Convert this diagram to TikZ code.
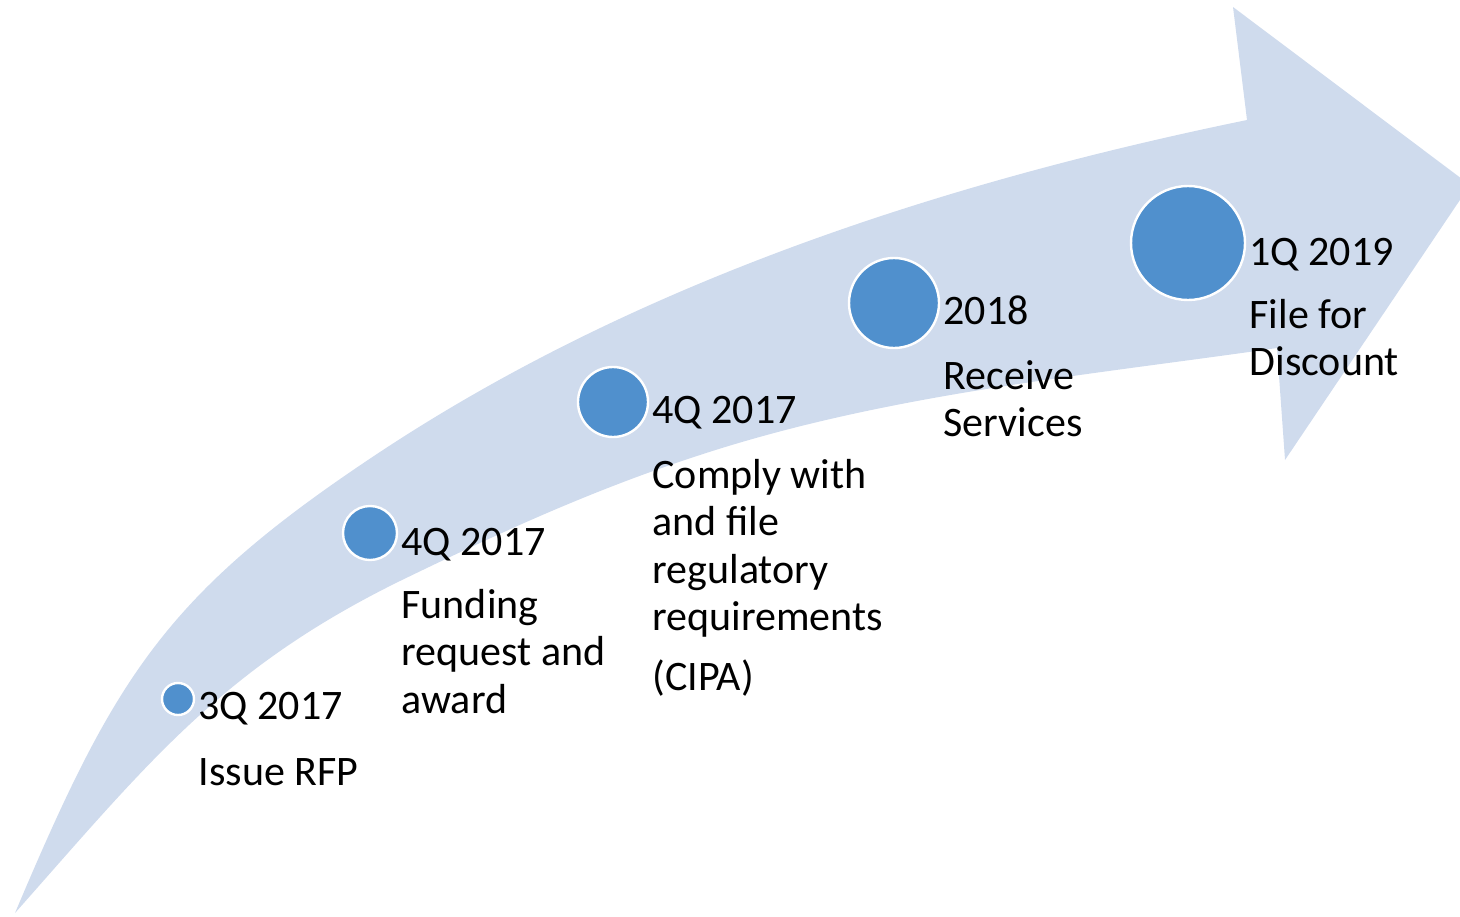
\documentclass[tikz,border=0pt]{standalone}
\usepackage{fontspec}
\setmainfont{Carlito}
\usetikzlibrary{positioning}

\definecolor{bandblue}{RGB}{207,219,237}
\definecolor{dotblue}{RGB}{80,144,205}

% lines of a milestone text, baseline on the first one
\newcommand{\stepnote}[1]{\begin{tabular}[t]{@{}l@{}}#1\end{tabular}}

\tikzset{
  dot/.style  = {circle, fill=dotblue, draw=white, line width=1.2pt,
                 inner sep=0pt},
  when/.style = {anchor=base west, inner sep=0pt,
                 font=\fontsize{21}{23.75}\selectfont},
  what/.style = {when}
}

\begin{document}
\begin{tikzpicture}[x=0.5pt, y=-0.5pt]
  \useasboundingbox (0,0) rectangle (1460,916);
  \clip (0,0) rectangle (1460,916);

  % the curved arrow
  \fill[bandblue] (15,913)
    .. controls (116,674) and (166,593) .. (383,450)
    .. controls (640,281) and (945,182) .. (1247,120)
    -- (1233,7) -- (1470,185) -- (1285,460) -- (1277,348)
    .. controls (1083,376) and (886,394) .. (700,455)
    .. controls (595,489) and (501,532) .. (402,580)
    .. controls (222,668) and (148,763) .. (15,913)
    -- cycle;

  % milestones
  \node[dot, minimum size=16pt] (c1) at (178,699) {};
  \node[dot, minimum size=27pt] (c2) at (370,533) {};
  \node[dot, minimum size=35pt] (c3) at (613,402) {};
  \node[dot, minimum size=45pt] (c4) at (894,303) {};
  \node[dot, minimum size=57pt] (c5) at (1188,243) {};

  \node[when, xshift=1.5pt, yshift=-10pt] (t1) at (c1.east) {3Q 2017};
  \node[what, yshift=-33pt] (d1) at (t1.base west) {Issue RFP};

  \node[when, xshift=1.5pt, yshift=-11pt] (t2) at (c2.east) {4Q 2017};
  \node[what, yshift=-31.5pt] (d2) at (t2.base west)
    {\stepnote{Funding\\request and\\award}};

  \node[when, xshift=1.5pt, yshift=-10.5pt] (t3) at (c3.east) {4Q 2017};
  \node[what, yshift=-32.5pt] (d3) at (t3.base west)
    {\stepnote{Comply with\\and file\\regulatory\\requirements}};
  \node[what, yshift=-101pt] (d3b) at (d3.base west) {(CIPA)};

  \node[when, xshift=1.5pt, yshift=-10.5pt] (t4) at (c4.east) {2018};
  \node[what, yshift=-32.5pt] (d4) at (t4.base west)
    {\stepnote{Receive\\Services}};

  \node[when, xshift=1.5pt, yshift=-11pt] (t5) at (c5.east) {1Q 2019};
  \node[what, yshift=-31.5pt] (d5) at (t5.base west)
    {\stepnote{File for\\Discount}};
\end{tikzpicture}
\end{document}
